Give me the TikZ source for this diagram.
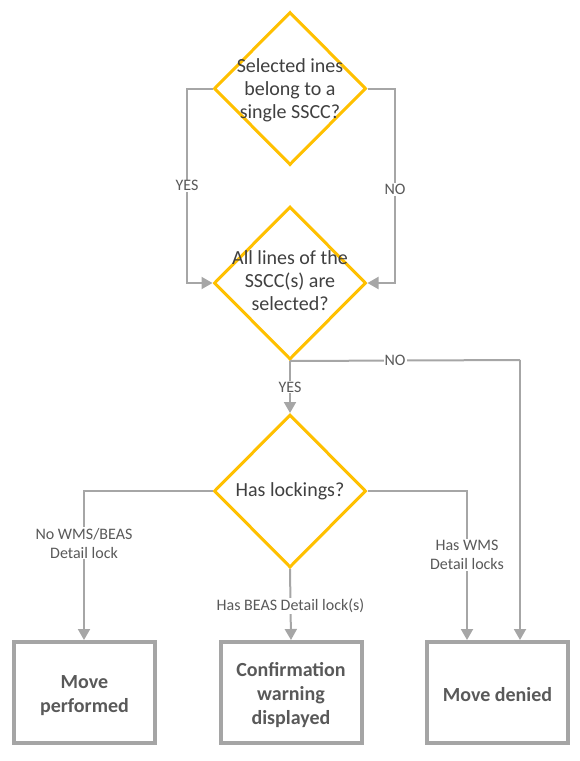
\documentclass[tikz,border=0pt]{standalone}
\usepackage{fontspec}
\setmainfont{Carlito}
\usetikzlibrary{shapes.geometric,arrows.meta}
\definecolor{ylw}{HTML}{FFC000}
\definecolor{gline}{HTML}{A6A6A6}
\definecolor{gbox}{HTML}{A5A5A5}
\definecolor{tdark}{HTML}{404040}
\definecolor{tmid}{HTML}{595959}
\tikzset{
  dec/.style={shape=diamond,draw=ylw,line width=3pt,minimum width=152pt,minimum height=153pt,inner sep=0pt,fill=white},
  dectext/.style={text=tdark,font=\fontsize{20}{23}\selectfont,align=center},
  outbox/.style={draw=gbox,line width=4pt,minimum width=141pt,minimum height=101pt,inner sep=0pt,text=tmid,font=\bfseries\fontsize{20}{24}\selectfont,align=center},
  conn/.style={draw=gline,line width=2pt,-{Triangle[width=12pt,length=11pt]}},
  plain/.style={draw=gline,line width=2pt},
  lbl/.style={fill=white,text=tmid,font=\fontsize{16}{19}\selectfont,align=center,inner sep=1pt}
}
\begin{document}
\begin{tikzpicture}[x=1pt,y=-1pt]
\useasboundingbox (0,0) rectangle (580,761);
% diamonds
\node[dec] (d1) at (290,88.5) {};
\node[dectext] at (290,90) {Selected ines\\belong to a\\single SSCC?};
\node[dec] (d2) at (290,283) {};
\node[dectext] at (290,281) {All lines of the\\SSCC(s) are\\selected?};
\node[dec] (d3) at (290,491) {};
\node[dectext] at (290,491) {Has lockings?};
% boxes
\node[outbox] (b1) at (84.5,692.5) {};
\node[outbox] (b2) at (291,692.5) {};
\node[outbox] (b3) at (497.5,692.5) {};
\node[outbox,draw=none] at (84.5,696) {Move\\performed};
\node[outbox,draw=none] at (291,695.5) {Confirmation\\warning\\displayed};
\node[outbox,draw=none] at (497.5,695) {Move denied};
% coordinates
\coordinate (cy) at (187,88.5);
\coordinate (cn) at (395,88.5);
\coordinate (cr) at (520,360);
\coordinate (cl3) at (84,491);
\coordinate (cr3) at (467,491);
% connectors
\draw[conn] (d1.west) -- (cy) |- node[lbl,pos=0.25]{YES} (d2.west);
\draw[conn] (d1.east) -- (cn) |- node[lbl,pos=0.26]{NO} (d2.east);
\draw[conn] (d2.south) -- node[lbl]{YES} (d3.north);
\draw[plain] (d2.south) -- node[lbl,pos=0.457]{NO} (cr);
\draw[conn] (cr) -- (cr |- b3.north);
\draw[conn] (d3.west) -- (cl3) -- node[lbl,pos=0.35]{No WMS/BEAS\\Detail lock} (cl3 |- b1.north);
\draw[conn] (d3.south) -- node[lbl,pos=0.52]{Has BEAS Detail lock(s)} (b2.north);
\draw[conn] (d3.east) -- (cr3) -- node[lbl,pos=0.43]{Has WMS\\Detail locks} (cr3 |- b3.north);
\end{tikzpicture}
\end{document}
